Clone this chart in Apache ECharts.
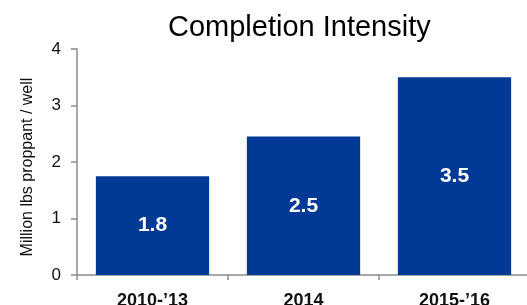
<!DOCTYPE html>
<html>
<head>
<meta charset="utf-8">
<script src="https://cdn.jsdelivr.net/npm/echarts@6/dist/echarts.min.js"></script>
<style>
html,body{margin:0;padding:0;background:#fff;}
#chart{width:527px;height:305px;}
</style>
</head>
<body>
<div id="chart"></div>
<script>
var categories = ["2010-\u201913", "2014", "2015-\u201916"];
var values = [1.75, 2.45, 3.5];
var valueLabels = ["1.8", "2.5", "3.5"];
var yTicks = [0, 1, 2, 3, 4];

var chart = echarts.init(document.getElementById('chart'));
var axisGray = '#8c8c8c';
var option = {
    animation: false,
    title: {
        text: 'Completion Intensity',
        left: 163,
        top: 8,
        textStyle: {fontFamily: 'Liberation Sans', fontSize: 29, fontWeight: 'normal', color: '#000'}
    },
    grid: {left: 77, top: 49, width: 453, height: 226, outerBoundsMode: 'none', containLabel: false},
    xAxis: {
        type: 'category',
        data: categories,
        axisLine: {lineStyle: {color: axisGray, width: 1.5}},
        axisTick: {show: true, length: 5, lineStyle: {color: axisGray, width: 1.5}},
        axisLabel: {fontFamily: 'Liberation Sans', fontSize: 18, fontWeight: 'bold', color: '#111', margin: 17}
    },
    yAxis: {
        type: 'value',
        min: yTicks[0],
        max: yTicks[yTicks.length - 1],
        interval: 1,
        name: 'Million lbs proppant / well',
        nameLocation: 'middle',
        nameGap: 41,
        nameTextStyle: {fontFamily: 'Liberation Sans', fontSize: 16, color: '#111', padding: [0, 10, 0, 0]},
        axisLine: {show: true, lineStyle: {color: axisGray, width: 1.5}},
        axisTick: {show: true, length: 6, lineStyle: {color: axisGray, width: 1.5}},
        splitLine: {show: false},
        axisLabel: {fontFamily: 'Liberation Sans', fontSize: 17, color: '#111', margin: 16}
    },
    series: [{
        type: 'bar',
        data: values,
        barCategoryGap: '25%',
        itemStyle: {color: '#003a96'},
        label: {
            show: true,
            position: 'inside',
            fontFamily: 'Liberation Sans',
            fontSize: 21,
            fontWeight: 'bold',
            color: '#fff',
            formatter: function (p) { return valueLabels[p.dataIndex]; }
        }
    }]
};
chart.setOption(option);
</script>
</body>
</html>
